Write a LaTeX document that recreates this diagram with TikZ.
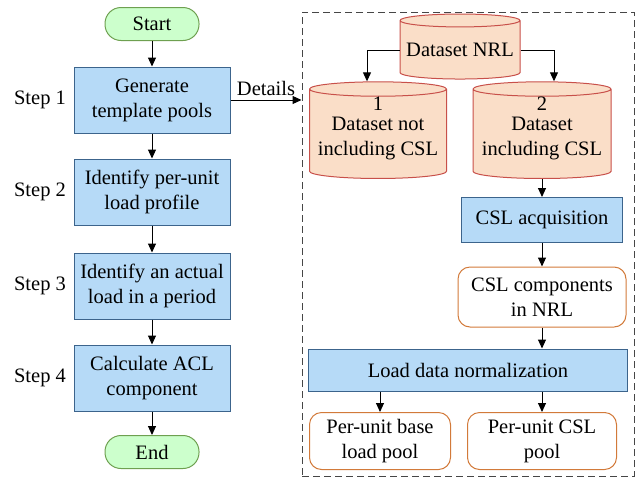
\documentclass[tikz,border=0pt]{standalone}
\usepackage{fontspec}
\setmainfont{Liberation Serif}
\newfontfamily\timesfont{Liberation Serif}
\usetikzlibrary{shapes.geometric,arrows.meta}
\definecolor{termfill}{RGB}{204,255,204}
\definecolor{termline}{RGB}{110,160,80}
\definecolor{stepfill}{RGB}{182,218,247}
\definecolor{stepline}{RGB}{60,100,140}
\definecolor{datafill}{RGB}{250,222,200}
\definecolor{dataline}{RGB}{200,80,74}
\definecolor{poolline}{RGB}{210,122,58}
\definecolor{frameline}{RGB}{70,70,70}
\begin{document}
\begin{tikzpicture}[x=1pt,y=-1pt,line width=1pt,>={Triangle[length=9pt,width=8pt]},
    font=\timesfont\fontsize{20.5}{25}\selectfont,
    term node/.style={draw=termline,fill=termfill,rounded corners=16pt,minimum width=94pt,minimum height=33pt,inner sep=0pt},
    step node/.style={draw=stepline,fill=stepfill,align=center,inner sep=0pt},
    data node/.style={cylinder,shape border rotate=90,aspect=0.12,draw=dataline,fill=datafill,align=center,inner sep=0pt},
    pool node/.style={draw=poolline,rounded corners=12pt,align=center,inner sep=0pt}]
    \useasboundingbox (0,0) rectangle (636,477);

    % main flow
    \node[term node] at (152,24) (start) {Start};
    \node[step node,minimum width=156pt,minimum height=66pt] at (152,100) (gen) {Generate\\template pools};
    \node[step node,minimum width=156pt,minimum height=66pt] at (152,192) (ident) {Identify per-unit\\load profile};
    \node[step node,minimum width=156pt,minimum height=66pt] at (152,286) (actual) {Identify an actual\\load in a period};
    \node[step node,minimum width=156pt,minimum height=66pt] at (152,378) (calc) {Calculate ACL\\component};
    \node[term node] at (152,452) (end) {End};

    \node at (40,100) (s1) {Step 1};
    \node at (40,192) (s2) {Step 2};
    \node at (40,286) (s3) {Step 3};
    \node at (40,378) (s4) {Step 4};

    \draw[->] (start) -- (gen);
    \draw[->] (gen) -- (ident);
    \draw[->] (ident) -- (actual);
    \draw[->] (actual) -- (calc);
    \draw[->] (calc) -- (end);

    % details
    \node[draw=frameline,dash pattern=on 7pt off 4pt,minimum width=332pt,minimum height=464pt,inner sep=0pt] at (468,244) (frame) {};
    \draw[->] (gen) -- (gen -| frame.west) node[midway,above] {Details};

    \node[data node,minimum width=120pt,minimum height=65pt] at (460,50) (nrl) {Dataset NRL};
    \node[data node,minimum width=137pt,minimum height=82pt] at (378,134) (ds1) {1\\[-5pt]Dataset not\\including CSL\\[-9pt]{}};
    \node[data node,minimum width=138pt,minimum height=82pt] at (542,134) (ds2) {2\\[-5pt]Dataset\\including CSL\\[-9pt]{}};
    \node[step node,minimum width=161pt,minimum height=45pt] at (542,220) (acq) {CSL acquisition};
    \node[pool node,minimum width=168pt,minimum height=60pt] at (542,297) (comp) {CSL components\\in NRL};
    \node[step node,minimum width=319pt,minimum height=42pt] at (468,370) (norm) {Load data normalization};
    \node[pool node,minimum width=141pt,minimum height=57pt] at (380,441) (base) {Per-unit base\\load pool};
    \node[pool node,minimum width=149pt,minimum height=57pt] at (542,441) (cslpool) {Per-unit CSL\\pool};

    \draw[->] (nrl.west) -| ([xshift=-11pt]ds1.north);
    \draw[->] (nrl.east) -| ([xshift=12pt]ds2.north);
    \draw[->] (ds2) -- (acq);
    \draw[->] (acq) -- (comp);
    \draw[->] (comp) -- (comp |- norm.north);
    \draw[->] (base |- norm.south) -- (base);
    \draw[->] (cslpool |- norm.south) -- (cslpool);
\end{tikzpicture}
\end{document}
